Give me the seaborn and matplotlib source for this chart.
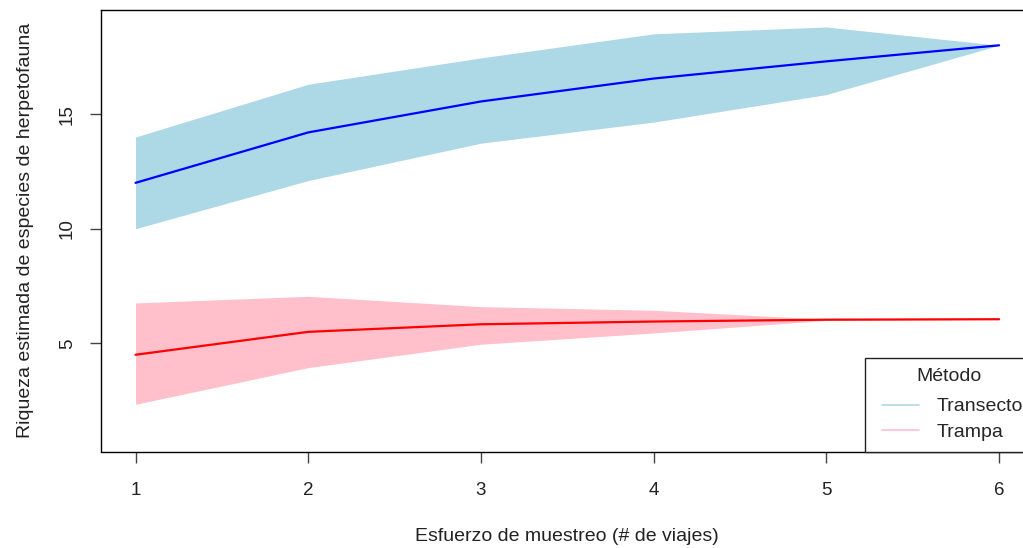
import matplotlib
matplotlib.use("Agg")
import matplotlib.pyplot as plt
from matplotlib.lines import Line2D
from matplotlib.legend_handler import HandlerLine2D
import seaborn as sns
import pandas as pd

viajes = [1, 2, 3, 4, 5, 6]
transecto_media = [12.0, 14.2, 15.55, 16.55, 17.3, 18.0]
transecto_sup = [14.0, 16.3, 17.45, 18.5, 18.8, 18.0]
transecto_inf = [10.0, 12.1, 13.73, 14.65, 15.85, 18.0]
trampa_media = [4.5, 5.5, 5.83, 5.95, 6.03, 6.05]
trampa_sup = [6.76, 7.05, 6.6, 6.44, 6.05, 6.05]
trampa_inf = [2.34, 3.94, 4.96, 5.45, 6.0, 6.05]
metodos = ["Transecto", "Trampa"]
colores_banda = {"Transecto": "#ADD8E6", "Trampa": "#FFC0CB"}
colores_linea = {"Transecto": "blue", "Trampa": "red"}

df = pd.DataFrame({
    "viajes": viajes * 2,
    "media": transecto_media + trampa_media,
    "sup": transecto_sup + trampa_sup,
    "inf": transecto_inf + trampa_inf,
    "metodo": ["Transecto"] * 6 + ["Trampa"] * 6,
})

sns.set_theme(style="white")
plt.rcParams["font.family"] = ["Liberation Sans", "DejaVu Sans"]


class ShiftedLine(HandlerLine2D):
    def get_xdata(self, legend, xdescent, ydescent, width, height, fontsize):
        xd, xm = super().get_xdata(legend, xdescent, ydescent, width, height, fontsize)
        return [-xdescent + 0.15 * width, -xdescent + width], xm


W, H = 1023, 548
fig = plt.figure(figsize=(W / 100, H / 100), dpi=100)
x0, x1 = 101, 1033.6
y0, y1 = 10, 451.5
ax = fig.add_axes([x0 / W, 1 - y1 / H, (x1 - x0) / W, (y1 - y0) / H])

for m in metodos:
    d = df[df["metodo"] == m]
    ax.fill_between(d["viajes"], d["inf"], d["sup"], color=colores_banda[m], lw=0, zorder=1)

sns.lineplot(data=df, x="viajes", y="media", hue="metodo", palette=colores_linea,
             linewidth=1.6, legend=False, ax=ax, zorder=2)

ax.set_xlim(0.8, 6.2)
ax.set_ylim(0.28, 19.54)
ax.set_xticks([1, 2, 3, 4, 5, 6])
ax.set_yticks([5, 10, 15])
ax.set_yticklabels(["5", "10", "15"], rotation=90, va="center")
for s in ax.spines.values():
    s.set_color("black")
    s.set_linewidth(1.0)
ax.tick_params(axis="both", direction="out", length=8, width=1, color="#444444",
               labelsize=13.5, labelcolor="#222222", bottom=True, left=True)
ax.tick_params(axis="x", pad=14)
ax.tick_params(axis="y", pad=10)
ax.set_xlabel("Esfuerzo de muestreo (# de viajes)", fontsize=14, color="#222222", labelpad=21)
ax.set_ylabel("Riqueza estimada de especies de herpetofauna", fontsize=14, color="#222222", labelpad=18)

handles = [Line2D([], [], color=colores_banda[m], lw=1.2) for m in metodos]
leg = ax.legend(handles, metodos, title="Método", loc="lower right", borderaxespad=0,
                fancybox=False, framealpha=1, edgecolor="#222222", fontsize=14,
                title_fontsize=14, handlelength=2.25, handletextpad=0.88,
                labelspacing=0.4, borderpad=0.55,
                handler_map={Line2D: ShiftedLine()})
leg.get_frame().set_linewidth(1.0)
leg._legend_box.sep = 9

fig.savefig("out.png", dpi=100)
